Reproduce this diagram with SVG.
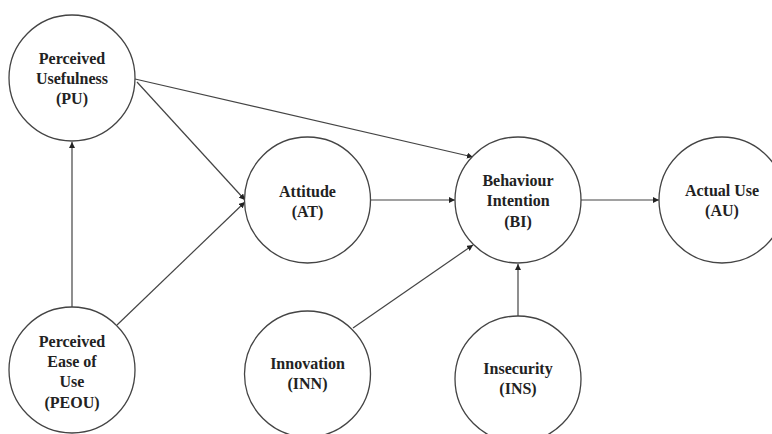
<svg xmlns="http://www.w3.org/2000/svg" width="772" height="434" viewBox="0 0 772 434">
<style>
.n{fill:#fff;stroke:#444;stroke-width:1.3}
.t{font-family:"Liberation Serif","Times New Roman",serif;font-weight:bold;font-size:16px;fill:#222;text-anchor:middle}
.c{stroke:#444;stroke-width:1.2;fill:none;marker-end:url(#a)}
</style>
<defs>
<marker id="a" viewBox="0 0 10 10" refX="10" refY="5" markerWidth="6" markerHeight="6" markerUnits="userSpaceOnUse" orient="auto">
<path d="M0,0 L10,5 L0,10 z" fill="#222"/>
</marker>
</defs>
<rect width="772" height="434" fill="#fff"/>
<g id="connectors">
<line class="c" x1="72" y1="307" x2="72" y2="142"/>
<line class="c" x1="135" y1="79" x2="473" y2="157"/>
<line class="c" x1="137" y1="82" x2="245" y2="200"/>
<line class="c" x1="117" y1="325" x2="245" y2="202"/>
<line class="c" x1="370" y1="200" x2="455" y2="200"/>
<line class="c" x1="581" y1="200" x2="659" y2="200"/>
<line class="c" x1="353" y1="328" x2="473" y2="245"/>
<line class="c" x1="518" y1="316" x2="518" y2="264"/>
</g>
<g id="PU">
<circle class="n" cx="72" cy="78" r="63"/>
<text class="t" x="72" y="64">Perceived</text>
<text class="t" x="72" y="84">Usefulness</text>
<text class="t" x="72" y="104">(PU)</text>
</g>
<g id="AT">
<circle class="n" cx="307.5" cy="200" r="63"/>
<text class="t" x="307.5" y="197">Attitude</text>
<text class="t" x="307.5" y="217">(AT)</text>
</g>
<g id="BI">
<circle class="n" cx="518" cy="200" r="63"/>
<text class="t" x="518" y="186">Behaviour</text>
<text class="t" x="518" y="206">Intention</text>
<text class="t" x="518" y="227">(BI)</text>
</g>
<g id="AU">
<circle class="n" cx="722" cy="200" r="63"/>
<text class="t" x="722" y="196">Actual Use</text>
<text class="t" x="722" y="216">(AU)</text>
</g>
<g id="PEOU">
<circle class="n" cx="72" cy="370" r="63"/>
<text class="t" x="72" y="347">Perceived</text>
<text class="t" x="72" y="367">Ease of</text>
<text class="t" x="72" y="387">Use</text>
<text class="t" x="72" y="408">(PEOU)</text>
</g>
<g id="INN">
<circle class="n" cx="307.5" cy="374" r="63"/>
<text class="t" x="307.5" y="369">Innovation</text>
<text class="t" x="307.5" y="389">(INN)</text>
</g>
<g id="INS">
<circle class="n" cx="518" cy="379" r="63"/>
<text class="t" x="518" y="374">Insecurity</text>
<text class="t" x="518" y="394">(INS)</text>
</g>
</svg>
